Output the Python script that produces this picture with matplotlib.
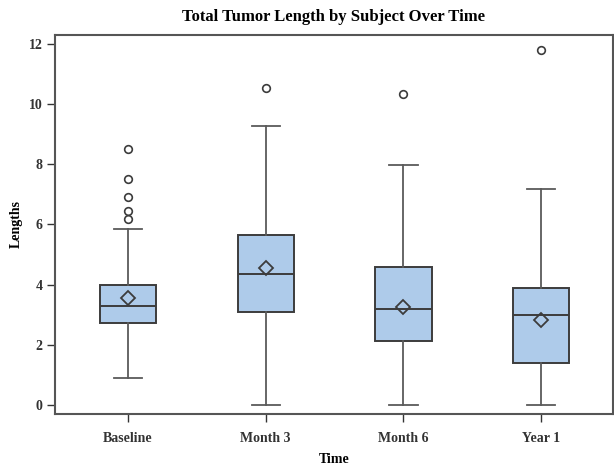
import matplotlib
matplotlib.use('Agg')
import matplotlib.pyplot as plt

# summary stats
categories = ['Baseline', 'Month 3', 'Month 6', 'Year 1']
whisker_lo = [0.9, 0.0, 0.0, 0.0]
q1 = [2.72, 3.09, 2.12, 1.41]
median = [3.29, 4.35, 3.20, 2.99]
q3 = [3.99, 5.65, 4.58, 3.89]
whisker_hi = [5.85, 9.28, 7.99, 7.18]
means = [3.56, 4.55, 3.25, 2.81]
outliers = [[8.51, 7.50, 6.90, 6.45, 6.19], [10.54], [10.32], [11.81]]

plt.rcParams['font.family'] = ['Liberation Serif', 'DejaVu Serif']
plt.rcParams['font.weight'] = 'bold'

stats = []
for i, name in enumerate(categories):
    stats.append({
        'label': name, 'whislo': whisker_lo[i], 'q1': q1[i], 'med': median[i],
        'q3': q3[i], 'whishi': whisker_hi[i], 'mean': means[i], 'fliers': outliers[i],
    })

fig = plt.figure(figsize=(6.14, 4.68), dpi=100)
ax = fig.add_axes([0.0896, 0.1154, 0.9085, 0.81])

edge = '#3c3c3c'
ax.bxp(stats, positions=range(len(categories)), widths=0.41, patch_artist=True,
       showmeans=True,
       boxprops=dict(facecolor='#aecbea', edgecolor=edge, linewidth=1.4),
       medianprops=dict(color=edge, linewidth=1.4),
       whiskerprops=dict(color='#5a5a5a', linewidth=1.3),
       capprops=dict(color='#5a5a5a', linewidth=1.3),
       meanprops=dict(marker='D', markerfacecolor='none', markeredgecolor=edge,
                      markersize=7, markeredgewidth=1.3),
       flierprops=dict(marker='o', markerfacecolor='none', markeredgecolor=edge,
                       markersize=5.5, markeredgewidth=1.2))

ax.set_xlim(-0.53, 3.52)
ax.set_ylim(-0.3, 12.3)
ax.set_yticks([0, 2, 4, 6, 8, 10, 12])
ax.set_xticks(range(len(categories)))
ax.set_xticklabels(categories)

ax.set_title('Total Tumor Length by Subject Over Time', fontsize=12, fontweight='bold', pad=10)
ax.set_xlabel('Time', fontsize=10, fontweight='bold', labelpad=6)
ax.set_ylabel('Lengths', fontsize=10, fontweight='bold', labelpad=4)
ax.tick_params(labelsize=10, colors='#333333', length=6, width=1.0)
ax.tick_params(axis='x', pad=7)
ax.tick_params(axis='y', pad=3)
for s in ax.spines.values():
    s.set_color('#555555')
    s.set_linewidth(1.5)

fig.savefig('out.png', dpi=100)
